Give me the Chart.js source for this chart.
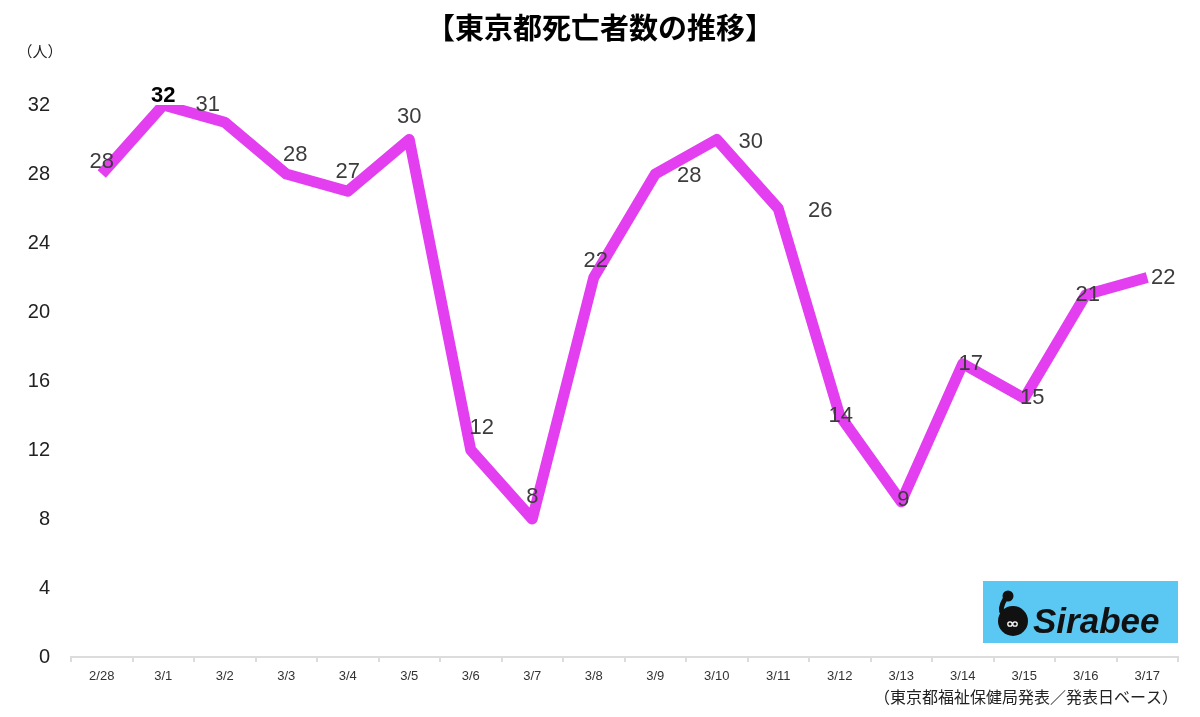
<!DOCTYPE html>
<html><head><meta charset="utf-8">
<script src="https://cdn.jsdelivr.net/npm/chart.js@4/dist/chart.umd.min.js"></script>
<style>html,body{margin:0;padding:0;background:#fff}#wrap{width:1200px;height:717px}</style>
</head><body><div id="wrap"><canvas id="c" width="1200" height="717"></canvas></div>
<script>
const categories = ['2/28','3/1','3/2','3/3','3/4','3/5','3/6','3/7','3/8','3/9','3/10','3/11','3/12','3/13','3/14','3/15','3/16','3/17'];
const deaths = [28,32,31,28,27,30,12,8,22,28,30,26,14,9,17,15,21,22];
const yTicks = [0,4,8,12,16,20,24,28,32];
const titleText = '【東京都死亡者数の推移】';
const unitText = '（人）';
const sourceText = '（東京都福祉保健局発表／発表日ベース）';
const labelOffsets = [[0,-12],[0,-9],[-17,-17],[9,-19],[0,-19],[0,-23],[11,-22],[0,-22],[2,-17],[34,2],[34,2],[42,2],[1,0],[2,-2],[8,0],[8,0],[2,0],[16,0]];

const JP = '"Noto Sans CJK JP", sans-serif';
const LAT = '"Liberation Sans", Arial, sans-serif';

const decor = {
  id:'decor',
  afterDraw(chart){
    const ctx = chart.ctx;
    ctx.save();
    ctx.fillStyle = '#000';
    ctx.font = 'bold 29px ' + JP;
    ctx.textAlign = 'center'; ctx.textBaseline = 'middle';
    ctx.fillText(titleText, 600, 28);
    ctx.font = '15px ' + JP;
    ctx.fillStyle = '#222';
    ctx.fillText(unitText, 40, 51);
    ctx.font = '16px ' + JP;
    ctx.textAlign = 'right';
    ctx.fillStyle = '#222';
    ctx.fillText(sourceText, 1178, 697);
    // data labels
    const meta = chart.getDatasetMeta(0);
    ctx.textAlign = 'center'; ctx.textBaseline = 'middle';
    meta.data.forEach((pt,i)=>{
      const off = labelOffsets[i];
      if (i === 1) { ctx.font = 'bold 22px ' + LAT; ctx.fillStyle = '#000'; }
      else { ctx.font = '22px ' + LAT; ctx.fillStyle = '#3c3c3c'; }
      ctx.fillText(String(deaths[i]), pt.x + off[0], pt.y + off[1]);
    });
    // logo
    ctx.fillStyle = '#5bc8f4';
    ctx.fillRect(983, 581, 195, 62);
    ctx.fillStyle = '#111';
    ctx.beginPath(); ctx.arc(1013, 621, 15, 0, Math.PI*2); ctx.fill();
    ctx.beginPath(); ctx.arc(1008, 596, 5.5, 0, Math.PI*2); ctx.fill();
    ctx.strokeStyle = '#111'; ctx.lineWidth = 5;
    ctx.beginPath(); ctx.moveTo(1005, 599); ctx.quadraticCurveTo(999, 609, 1003, 614); ctx.stroke();
    ctx.strokeStyle = '#fff'; ctx.lineWidth = 1.3;
    ctx.beginPath(); ctx.arc(1010, 624, 2.2, 0, Math.PI*2); ctx.stroke();
    ctx.beginPath(); ctx.arc(1015, 624, 2.2, 0, Math.PI*2); ctx.stroke();
    ctx.fillStyle = '#111';
    ctx.font = 'italic bold 35px ' + LAT;
    ctx.textAlign = 'left'; ctx.textBaseline = 'alphabetic';
    ctx.fillText('Sirabee', 1033, 633);
    ctx.restore();
  }
};

new Chart(document.getElementById('c'), {
  type:'line',
  data:{ labels: categories, datasets:[{ data: deaths, borderColor:'#e33ef0', borderWidth:11, pointRadius:0, tension:0, fill:false, borderJoinStyle:'round', borderCapStyle:'butt' }]},
  options:{
    responsive:false, animation:false,
    layout:{ padding:{ top:105, right:22, bottom:0, left:0 } },
    plugins:{ legend:{display:false}, tooltip:{enabled:false}, title:{display:false} },
    scales:{
      x:{
        offset:true,
        grid:{ display:true, drawOnChartArea:false, drawTicks:true, tickLength:5, color:'#dcdcdc', offset:true, lineWidth:2 },
        border:{ display:true, color:'#dcdcdc', width:2 },
        ticks:{ color:'#333', font:{ family: LAT, size:13 }, padding:7, maxRotation:0, autoSkip:false },
        afterFit(s){ s.height = 60; }
      },
      y:{
        min:0, max:32,
        grid:{ display:false, drawTicks:false },
        border:{ display:false },
        afterBuildTicks(s){ s.ticks = yTicks.map(v=>({value:v})); },
        ticks:{ color:'#222', font:{ family: LAT, size:20 }, padding:21 },
        afterFit(s){ s.width = 71; }
      }
    }
  },
  plugins:[decor]
});
</script></body></html>
